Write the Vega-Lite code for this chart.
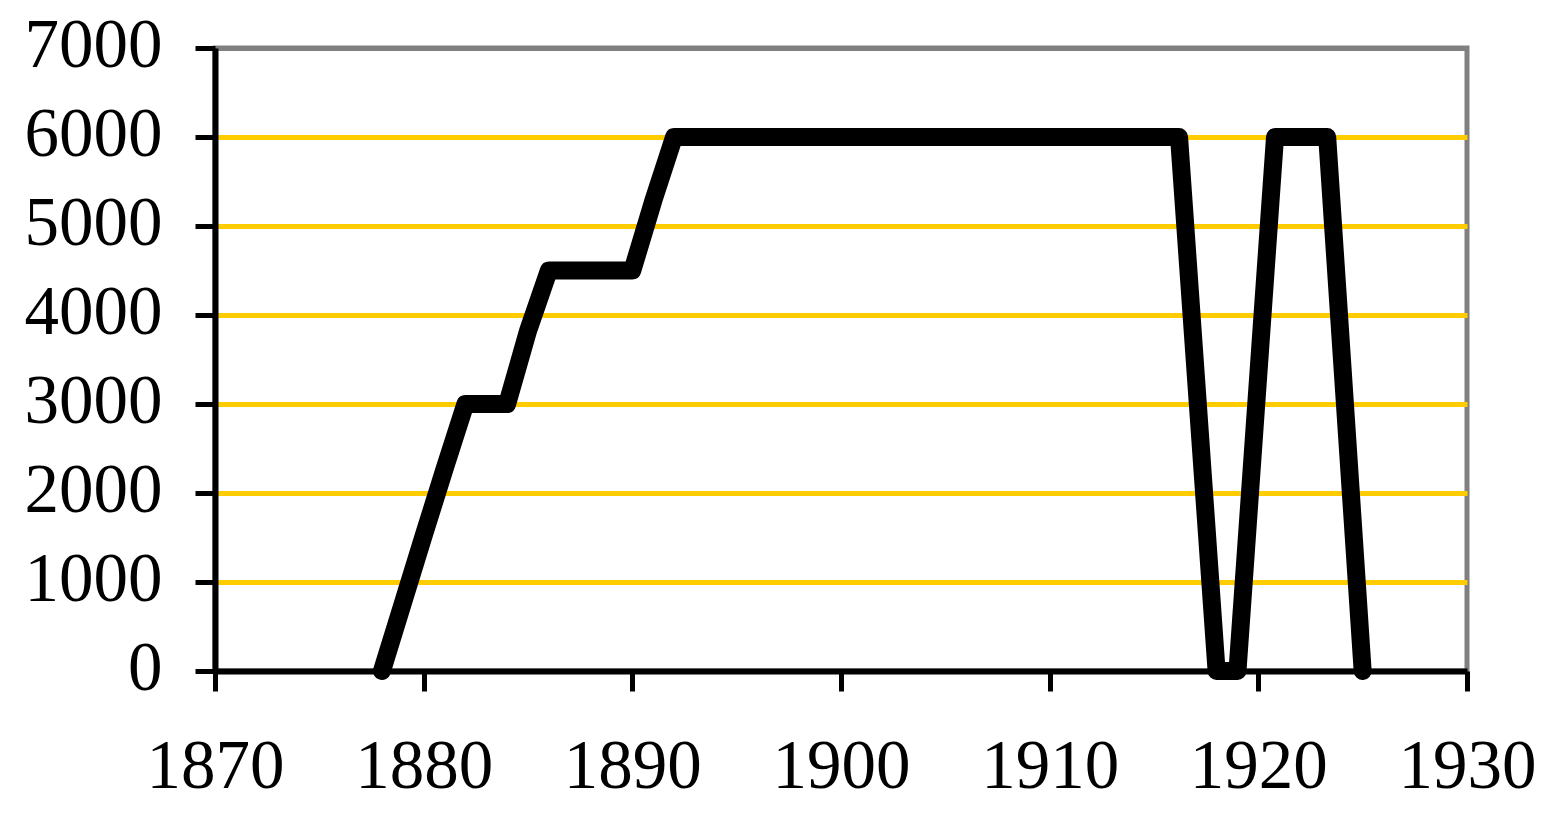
{
  "$schema": "https://vega.github.io/schema/vega-lite/v6.json",
  "width": 1252,
  "height": 623,
  "autosize": {"type": "none"},
  "padding": {"left": 215, "top": 48, "right": 83, "bottom": 142},
  "background": "white",
  "config": {
    "view": {"stroke": "#808080", "strokeWidth": 5},
    "font": "Liberation Serif"
  },
  "data": {
    "values": [
      {"year": 1878, "value": 0},
      {"year": 1879, "value": 760},
      {"year": 1880, "value": 1520},
      {"year": 1881, "value": 2270},
      {"year": 1882, "value": 3000},
      {"year": 1884, "value": 3000},
      {"year": 1885, "value": 3820},
      {"year": 1886, "value": 4500},
      {"year": 1890, "value": 4500},
      {"year": 1891, "value": 5280},
      {"year": 1892, "value": 6000},
      {"year": 1916.2, "value": 6000},
      {"year": 1918, "value": 0},
      {"year": 1919, "value": 0},
      {"year": 1920.8, "value": 6000},
      {"year": 1923.3, "value": 6000},
      {"year": 1925, "value": 0}
    ]
  },
  "mark": {"type": "line", "color": "black", "strokeWidth": 18, "strokeJoin": "round", "strokeCap": "round", "clip": false},
  "encoding": {
    "x": {
      "field": "year",
      "type": "quantitative",
      "scale": {"domain": [1870, 1930], "nice": false, "zero": false},
      "axis": {
        "title": null,
        "values": [1870, 1880, 1890, 1900, 1910, 1920, 1930],
        "format": "d",
        "grid": false,
        "domainColor": "black",
        "domainWidth": 6,
        "tickColor": "black",
        "tickWidth": 5,
        "tickSize": 20,
        "labelFont": "Liberation Serif",
        "labelFontSize": 69,
        "labelColor": "black",
        "labelPadding": 96,
        "labelBaseline": "alphabetic",
        "labelFlush": false
      }
    },
    "y": {
      "field": "value",
      "type": "quantitative",
      "scale": {"domain": [0, 7000], "nice": false},
      "axis": {
        "title": null,
        "values": [0, 1000, 2000, 3000, 4000, 5000, 6000, 7000],
        "format": "d",
        "grid": true,
        "gridColor": {"condition": {"test": "datum.value === 7000 || datum.value === 0", "value": "#808080"}, "value": "#FFCC00"},
        "gridWidth": 5,
        "domainColor": "black",
        "domainWidth": 6,
        "tickColor": "black",
        "tickWidth": 5,
        "tickSize": 20,
        "labelFont": "Liberation Serif",
        "labelFontSize": 69,
        "labelColor": "black",
        "labelPadding": 33,
        "labelBaseline": "alphabetic",
        "labelOffset": 18,
        "labelFlush": false
      }
    }
  }
}
